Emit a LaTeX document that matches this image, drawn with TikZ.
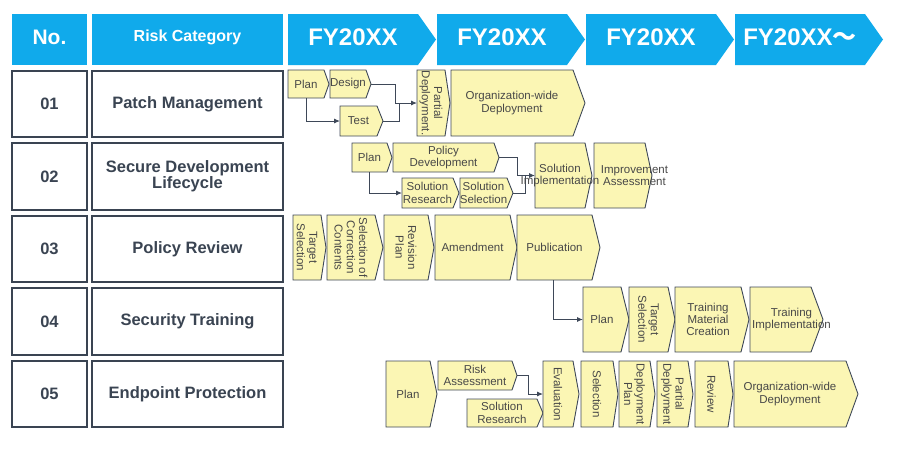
\documentclass[tikz,border=0pt]{standalone}
\usepackage{fontspec}
\setmainfont{Liberation Sans}
\newfontfamily\cjkf{Noto Sans CJK JP}
\usetikzlibrary{arrows.meta}
\pgfdeclarelayer{fg}
\pgfsetlayers{main,fg}
\definecolor{hdr}{RGB}{16,170,235}
\definecolor{ink}{RGB}{58,68,82}
\definecolor{chfill}{RGB}{251,246,180}
\definecolor{chline}{RGB}{62,72,88}
\definecolor{chtext}{RGB}{72,72,72}
\tikzset{
 hdrbox/.style={fill=hdr, draw=none, inner sep=0, outer sep=0, text=white},
 hdrbig/.style={font=\bfseries\fontsize{24}{26}\selectfont},
 hdrmid/.style={font=\bfseries\fontsize{21}{24}\selectfont},
 hdrsmall/.style={font=\bfseries\fontsize{16}{18}\selectfont},
 rowbox/.style={draw=ink, line width=1.1pt, fill=white, inner sep=0, outer sep=0,
   text=ink, font=\bfseries\fontsize{16.5}{16}\selectfont, align=center},
 chevbody/.style={draw=none, inner sep=0, outer sep=0},
 chevshape/.style={fill=chfill, draw=chline, line width=0.9pt, line join=miter},
 chevtext/.style={text=chtext, font=\fontsize{11.5}{12.3}\selectfont, align=center, inner sep=0},
 conn/.style={draw=chline, line width=0.9pt, -{Latex[length=6pt,width=5pt]}},
 link/.style={draw=chline, line width=0.9pt},
}
% #1 text options, #2 name, #3 x1, #4 y1, #5 x2, #6 y2, #7 point depth, #8 text
\newcommand\chev[8][]{%
 \node[chevbody, minimum width={(#5-#3)*1pt}, minimum height={(#6-#4)*1pt}] (#2) at ({(#3+#5)/2},{(#4+#6)/2}) {};
 \path[chevshape] (#2.north west) -- ([xshift=-#7pt]#2.north east) -- (#2.east) -- ([xshift=-#7pt]#2.south east) -- (#2.south west) -- cycle;
 \begin{pgfonlayer}{fg}
 \node[chevtext,#1] at ([xshift=-#7pt/2]#2.center) {#8};
 \end{pgfonlayer}
}
% #1 name, #2 x1, #3 text
\newcommand\fyarrow[3]{%
 \node[chevbody, minimum width=148pt, minimum height=51pt] (#1) at ({#2+74},39.5) {};
 \fill[hdr] (#1.north west) -- ([xshift=-18pt]#1.north east) -- (#1.east) -- ([xshift=-18pt]#1.south east) -- (#1.south west) -- cycle;
 \node[hdrbox, fill=none, hdrbig] at ([xshift=-9pt, yshift=2pt]#1.center) {#3};
}
\begin{document}
\begin{tikzpicture}[x=1pt,y=-1pt]
\useasboundingbox (0,0) rectangle (900,451);
% header
\node[hdrbox, minimum width=75pt, minimum height=51pt] (hno) at (49.5,39.5) {};
\node[hdrbox, fill=none, hdrmid] at ([yshift=2pt]hno.center) {No.};
\node[hdrbox, minimum width=191pt, minimum height=51pt] (hcat) at (187.5,39.5) {};
\node[hdrbox, fill=none, hdrsmall] at ([yshift=2pt]hcat.center) {Risk Category};
\fyarrow{fy1}{288}{FY20XX}
\fyarrow{fy2}{437}{FY20XX}
\fyarrow{fy3}{586}{FY20XX}
\fyarrow{fy4}{735}{FY20XX{\cjkf ～}}
% rows
\node[rowbox, minimum width=75pt, minimum height=66pt] (n1) at (49.5,104) {01};
\node[rowbox, minimum width=191pt, minimum height=66pt] (c1) at (187.5,104) {Patch Management};
\node[rowbox, minimum width=75pt, minimum height=67pt] (n2) at (49.5,176.5) {02};
\node[rowbox, minimum width=191pt, minimum height=67pt] (c2) at (187.5,176.5) {Secure Development\\Lifecycle};
\node[rowbox, minimum width=75pt, minimum height=66pt] (n3) at (49.5,249) {03};
\node[rowbox, minimum width=191pt, minimum height=66pt] (c3) at (187.5,249) {Policy Review};
\node[rowbox, minimum width=75pt, minimum height=67pt] (n4) at (49.5,321.5) {04};
\node[rowbox, minimum width=191pt, minimum height=67pt] (c4) at (187.5,321.5) {Security Training};
\node[rowbox, minimum width=75pt, minimum height=66pt] (n5) at (49.5,394) {05};
\node[rowbox, minimum width=191pt, minimum height=66pt] (c5) at (187.5,394) {Endpoint Protection};
% row 01
\chev{r1plan}{288}{70}{329}{98}{5}{Plan}
\chev{r1design}{330}{70}{371}{98}{5}{Design}
\chev{r1test}{340}{106}{383}{136}{6}{Test}
\chev[rotate=-90]{r1part}{417}{70}{450}{136}{5}{Partial\\Deployment.}
\chev{r1org}{451}{70}{585}{136}{12}{Organization-wide\\Deployment}
% row 02
\chev{r2plan}{352}{143}{392}{172}{5}{Plan}
\chev{r2pol}{393}{143}{499}{172}{5}{Policy\\Development}
\chev{r2res}{402}{178}{459}{208}{6}{Solution\\Research}
\chev{r2sel}{460}{178}{513}{208}{6}{Solution\\Selection}
\chev{r2impl}{535}{143}{592}{208}{7}{Solution\\Implementation}
\chev[xshift=15pt]{r2imp}{594}{143}{652}{208}{7}{Improvement\\Assessment}
% row 03
\chev[rotate=-90]{r3tgt}{293}{215}{326}{280}{5}{Target\\Selection}
\chev[rotate=-90]{r3sel}{327}{215}{383}{280}{8}{Selection of\\Correction\\Contents}
\chev[rotate=-90]{r3rev}{384}{215}{434}{280}{6}{Revision\\Plan}
\chev{r3amd}{435}{215}{517}{280}{7}{Amendment}
\chev{r3pub}{517}{215}{600}{280}{8}{Publication}
% row 04
\chev{r4plan}{583}{287}{629}{352}{8}{Plan}
\chev[rotate=-90]{r4tgt}{629}{287}{675}{352}{7}{Target\\Selection}
\chev{r4mat}{675}{287}{749}{352}{8}{Training\\Material\\Creation}
\chev[xshift=11pt]{r4impl}{750}{287}{823}{352}{12}{Training\\Implementation}
% row 05
\chev{r5plan}{386}{361}{437}{427}{7}{Plan}
\chev{r5risk}{438}{361}{517}{390}{5}{Risk\\Assessment}
\chev{r5res}{467}{399}{543}{427}{6}{Solution\\Research}
\chev[rotate=-90]{r5eval}{543}{361}{579}{427}{6}{Evaluation}
\chev[rotate=-90]{r5sel}{581}{361}{618}{427}{5}{Selection}
\chev[rotate=-90]{r5dep}{619}{361}{655}{427}{5}{Deployment\\Plan}
\chev[rotate=-90]{r5part}{657}{361}{693}{427}{5}{Partial\\Deployment}
\chev[rotate=-90]{r5rev}{695}{361}{733}{427}{5}{Review}
\chev{r5org}{734}{361}{858}{427}{12}{Organization-wide\\Deployment}
% connectors
\draw[conn] ([xshift=-2pt]r1plan.south) |- (r1test.west);
\draw[conn] (r1design.east) -| ([xshift=-22pt]r1part.west) -- (r1part.west);
\draw[link] (r1test.east) -| ([xshift=-18pt]r1part.west);
\draw[conn] ([xshift=-3pt]r2plan.south) |- (r2res.west);
\draw[conn] (r2pol.east) -| ([xshift=-18pt]r2impl.west) -- (r2impl.west);
\draw[link] (r2sel.east) -| ([xshift=-10pt]r2impl.west);
\draw[conn] ([xshift=-5pt]r3pub.south) |- (r4plan.west);
\draw[conn] (r5risk.east) -| ([xshift=-15pt]r5eval.west) -- (r5eval.west);
\end{tikzpicture}
\end{document}
